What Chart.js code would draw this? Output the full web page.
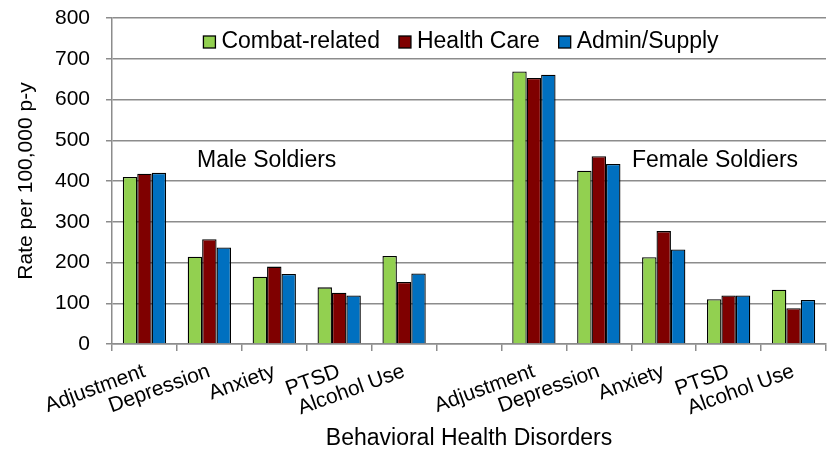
<!DOCTYPE html>
<html>
<head>
<meta charset="utf-8">
<script src="https://cdn.jsdelivr.net/npm/chart.js@4.4.1/dist/chart.umd.min.js"></script>
<style>
  body { margin: 0; background: #fff; }
  #wrap { width: 829px; height: 450px; }
</style>
</head>
<body>
<div id="wrap"><canvas id="chart"></canvas></div>
<script>
const categories = ['Adjustment', 'Depression', 'Anxiety', 'PTSD', 'Alcohol Use', '',
                    'Adjustment', 'Depression', 'Anxiety', 'PTSD', 'Alcohol Use'];
const combat = [410, 214, 165, 139, 216, null, 669, 425, 213, 110, 133];
const healthCare = [418, 257, 190, 126, 152, null, 653, 461, 277, 119, 88];
const adminSupply = [420, 237, 172, 119, 173, null, 661, 442, 232, 119, 108];
const yTicks = [0, 100, 200, 300, 400, 500, 600, 700, 800];
const groupNotes = [
  { text: 'Male Soldiers', at: 0.81, value: 450 },
  { text: 'Female Soldiers', at: 7.51, value: 450 }
];

const FONT = '"Liberation Sans", Arial, sans-serif';
const GRID = '#8c8c8c';

// group captions + legend drawn inside the plot area
const notesPlugin = {
  id: 'notes',
  afterDatasetsDraw(chart) {
    const ctx = chart.ctx, x = chart.scales.x, y = chart.scales.y, area = chart.chartArea;
    ctx.save();
    ctx.font = '23px ' + FONT;
    ctx.fillStyle = '#000';
    ctx.textAlign = 'left';
    ctx.textBaseline = 'middle';
    groupNotes.forEach(n => {
      ctx.fillText(n.text, x.getPixelForValue(n.at), y.getPixelForValue(n.value));
    });

    // legend
    const items = chart.data.datasets.map(d => ({ label: d.label, color: d.backgroundColor }));
    const box = 12, gap = 6, spacing = 19;
    const widths = items.map(it => box + gap + ctx.measureText(it.label).width);
    const total = widths.reduce((a, b) => a + b, 0) + spacing * (items.length - 1);
    let lx = (area.left + area.right) / 2 - 8 - total / 2;
    const cy = area.top + 24;
    items.forEach((it, i) => {
      ctx.fillStyle = it.color;
      ctx.fillRect(lx, cy - box / 2, box, box);
      ctx.strokeStyle = '#000';
      ctx.lineWidth = 1.3;
      ctx.strokeRect(lx, cy - box / 2, box, box);
      ctx.fillStyle = '#000';
      ctx.fillText(it.label, lx + box + gap, cy);
      lx += widths[i] + spacing;
    });
    ctx.restore();
  }
};

new Chart(document.getElementById('chart'), {
  type: 'bar',
  data: {
    labels: categories,
    datasets: [
      { label: 'Combat-related', data: combat, backgroundColor: '#92d050' },
      { label: 'Health Care', data: healthCare, backgroundColor: '#7f0000' },
      { label: 'Admin/Supply', data: adminSupply, backgroundColor: '#0070c0' }
    ].map(d => Object.assign(d, { borderColor: '#000', borderWidth: 1.3, borderSkipped: 'bottom',
                                  categoryPercentage: 0.667, barPercentage: 1 }))
  },
  options: {
    responsive: true,
    maintainAspectRatio: false,
    animation: false,
    layout: { padding: { left: 0, right: 3, top: 18, bottom: 0 } },
    plugins: {
      legend: { display: false },
      tooltip: { enabled: false }
    },
    scales: {
      x: {
        afterFit(s) { s.height = 106; },
        grid: { drawOnChartArea: false, drawTicks: true, tickLength: 7, color: GRID, lineWidth: 1.5 },
        border: { color: GRID, width: 1.5 },
        ticks: { minRotation: 20, maxRotation: 20, autoSkip: false, padding: 8, color: '#000',
                 font: { family: FONT, size: 21 } },
        title: { display: true, text: 'Behavioral Health Disorders', color: '#000',
                 padding: { top: 0, bottom: -2 }, font: { family: FONT, size: 23 } }
      },
      y: {
        min: 0,
        max: 800,
        afterFit(s) { s.width = 112; s.paddingTop = 0; s.paddingBottom = 0; },
        afterBuildTicks(s) { s.ticks = yTicks.map(v => ({ value: v })); },
        grid: { color: GRID, lineWidth: 1.5, tickLength: 6 },
        border: { color: GRID, width: 1.5 },
        ticks: { padding: 16, color: '#000', font: { family: FONT, size: 21 } },
        title: { display: true, text: 'Rate per 100,000 p-y', color: '#000',
                 padding: { top: 14, bottom: 0 }, font: { family: FONT, size: 21 } }
      }
    }
  },
  plugins: [notesPlugin]
});
</script>
</body>
</html>
